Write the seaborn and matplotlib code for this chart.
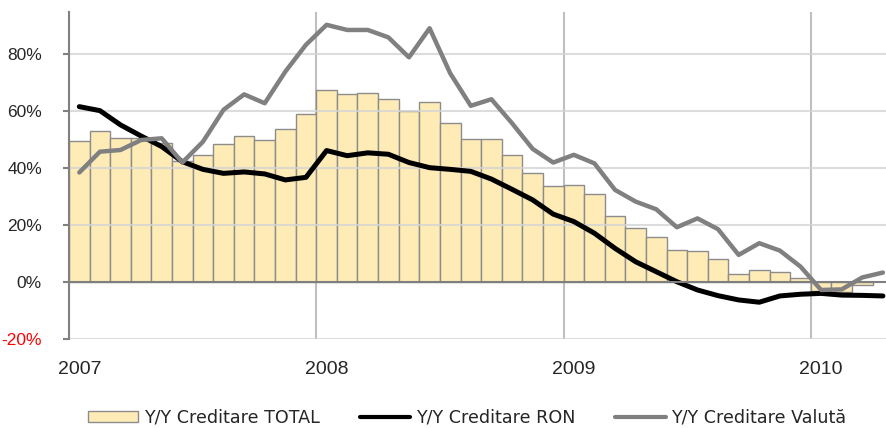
import numpy as np
import pandas as pd
import matplotlib
matplotlib.use("Agg")
import matplotlib.pyplot as plt
import seaborn as sns
from matplotlib.lines import Line2D
from matplotlib.patches import Patch

# ---- data (monthly, Jan 2007 .. Apr 2010) ----
months = pd.date_range("2007-01-01", "2010-04-01", freq="MS").strftime("%Y-%m").tolist()
total = [49.4, 53.0, 50.6, 50.5, 48.7, 42.6, 44.4, 48.5, 51.2, 49.7, 53.6, 58.8,
         67.4, 65.8, 66.2, 64.3, 59.8, 63.3, 55.7, 50.3, 50.3, 44.7, 38.1, 33.6,
         33.9, 30.8, 23.0, 18.8, 15.9, 11.2, 10.8, 8.2, 2.7, 4.3, 3.5, 1.3,
         -3.0, -3.4, -1.1, np.nan]
ron = [61.5, 60.1, 55.1, 51.2, 47.5, 42.2, 39.5, 38.1, 38.6, 37.9, 35.8, 36.7,
       46.1, 44.3, 45.3, 44.8, 41.9, 40.1, 39.5, 38.8, 36.1, 32.5, 28.8, 23.8,
       21.2, 17.1, 11.8, 7.1, 3.6, 0.1, -2.8, -4.8, -6.3, -7.1, -4.9, -4.3,
       -4.0, -4.6, -4.7, -4.9]
valuta = [38.4, 45.7, 46.3, 49.8, 50.4, 41.9, 49.2, 60.4, 65.8, 62.7, 73.8, 83.2,
          90.2, 88.4, 88.4, 85.8, 78.8, 89.0, 73.2, 61.8, 64.1, 55.7, 46.7, 41.9,
          44.6, 41.6, 32.3, 28.2, 25.5, 19.2, 22.3, 18.5, 9.5, 13.6, 11.0, 5.4,
          -2.8, -2.6, 1.6, 3.3]
year_labels = ["2007", "2008", "2009", "2010"]
y_ticks = [-20, 0, 20, 40, 60, 80]
series_names = ["Y/Y Creditare TOTAL", "Y/Y Creditare RON", "Y/Y Creditare Valută"]

df = pd.DataFrame({"idx": range(len(months)), "month": months,
                   "total": total, "ron": ron, "valuta": valuta})

sns.set_theme(style="white")
plt.rcParams["font.family"] = ["Liberation Sans Narrow", "Liberation Sans", "DejaVu Sans"]

fig = plt.figure(figsize=(8.86, 4.28), dpi=100)
ax = fig.add_axes([69 / 886, 1 - 339 / 428, 1 - 69 / 886, (339 - 12) / 428])

bar_color = "#FEEBB6"
bars = df.dropna(subset=["total"])
sns.barplot(data=bars, x="idx", y="total", order=list(range(len(months))),
            color=bar_color, saturation=1, width=1.0, edgecolor="#8C8C8C",
            linewidth=1.0, errorbar=None, ax=ax, zorder=2)
sns.lineplot(data=df, x="idx", y="ron", color="black", linewidth=3.6, ax=ax,
             zorder=4, solid_capstyle="round", solid_joinstyle="round")
sns.lineplot(data=df, x="idx", y="valuta", color="#808080", linewidth=3.2, ax=ax,
             zorder=5, solid_capstyle="round", solid_joinstyle="round")

ax.set_xlim(-0.5, 39.15)
ax.set_ylim(-20, 94.7)

# gridlines
for v in y_ticks:
    if v != 0:
        ax.axhline(v, color="#D4D4D4", lw=1.5, zorder=3, alpha=0.8)
ax.axhline(0, color="#7F7F7F", lw=1.5, zorder=6)
for k in range(len(year_labels)):
    ax.axvline(-0.5 + 12 * k, color="#BFBFBF", lw=1.5, zorder=1)

ax.set_xticks([12 * k for k in range(len(year_labels))])
ax.set_xticklabels(year_labels, fontsize=14)
ax.tick_params(axis="x", length=0, pad=16)
ax.set_yticks(y_ticks)
ax.set_yticklabels([f"{v}%" for v in y_ticks], fontsize=12.5)
ax.tick_params(axis="y", length=4.5, width=1.5, color="#808080", pad=15, left=True)
for lbl, v in zip(ax.get_yticklabels(), y_ticks):
    if v < 0:
        lbl.set_color("red")

ax.set_xlabel("")
ax.set_ylabel("")
for s in ["top", "right", "bottom"]:
    ax.spines[s].set_visible(False)
ax.spines["left"].set_color("#808080")
ax.spines["left"].set_linewidth(1.5)
ax.spines["left"].set_zorder(7)

handles = [Patch(facecolor=bar_color, edgecolor="#8C8C8C", linewidth=1.0),
           Line2D([], [], color="black", lw=3),
           Line2D([], [], color="#808080", lw=3)]
fig.legend(handles, series_names, loc="center", bbox_to_anchor=(467 / 886, 1 - 418 / 428),
           ncol=3, frameon=False, prop={"family": "DejaVu Sans", "size": 12.6},
           handlelength=2.9, handleheight=0.56, handletextpad=0.3,
           columnspacing=2.3, borderaxespad=0, borderpad=0)

fig.savefig("out.png", dpi=100)
